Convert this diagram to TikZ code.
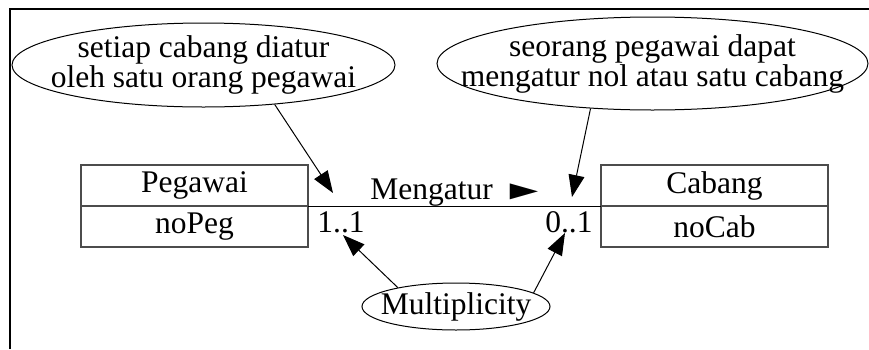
\documentclass[tikz,border=0pt]{standalone}
\usepackage{fontspec}
\setmainfont{Liberation Serif}
\usetikzlibrary{arrows.meta,positioning,shapes.geometric}
\tikzset{
  note/.style={draw, ellipse, inner sep=0pt, line width=0.5pt},
  cls/.style={draw=black!70, line width=0.7pt, minimum width=113.5pt,
              minimum height=20.5pt, inner sep=0pt, outer sep=0pt},
  mult/.style={inner sep=0pt},
  edge/.style={-{Triangle[length=11pt,width=8pt]}, line width=0.5pt}
}

\begin{document}
\begin{tikzpicture}[x=0.5pt, y=-0.5pt, font=\fontsize{15.75}{15}\selectfont]
  \useasboundingbox (0,0) rectangle (869,349);
  \draw[line width=1pt] (10,349) -- (10,8.5) -- (869,8.5);

  % notes
  \node[note, minimum width=191.5pt, minimum height=42pt,
        label={[align=center]center:{setiap cabang diatur\\oleh satu orang pegawai}}]
        (rule1) at (203.5,65) {};
  \node[note, minimum width=215.5pt, minimum height=46.5pt,
        label={[align=center]center:{seorang pegawai dapat\\mengatur nol atau satu cabang}}]
        (rule2) at (652.5,63.5) {};
  \node[note, minimum width=94pt, minimum height=23.5pt, label=center:Multiplicity]
        (multnote) at (456,306.5) {};

  % classes
  \node[cls] (peg) at (194.5,185.5) {Pegawai};
  \node[cls, below=0pt of peg] (pegattr) {noPeg};
  \node[cls] (cab) at (714.5,185.5) {Cabang};
  \node[cls, below=0pt of cab] (cabattr) {noCab};

  % association
  \draw[line width=0.5pt] (peg.south east) -- (cab.south west);
  \node[anchor=base west, inner sep=0pt] (assoc) at (370,199)
        {Mengatur \scalebox{1.5}[0.85]{►}};
  \node[mult, anchor=base west] (m1) at (317,232) {1..1};
  \node[mult, anchor=base east] (m2) at (593,232) {0..1};

  \coordinate (endPeg) at (333,193);
  \coordinate (endCab) at (572,197);
  \coordinate (mulPeg) at (343,235);
  \coordinate (mulCab) at (565,233);

  \draw[edge] (rule1.-29) -- (endPeg);
  \draw[edge] (rule2.-144) -- (endCab);
  \draw[edge] (multnote.162) -- (mulPeg);
  \draw[edge] (multnote.10) -- (mulCab);
\end{tikzpicture}
\end{document}
